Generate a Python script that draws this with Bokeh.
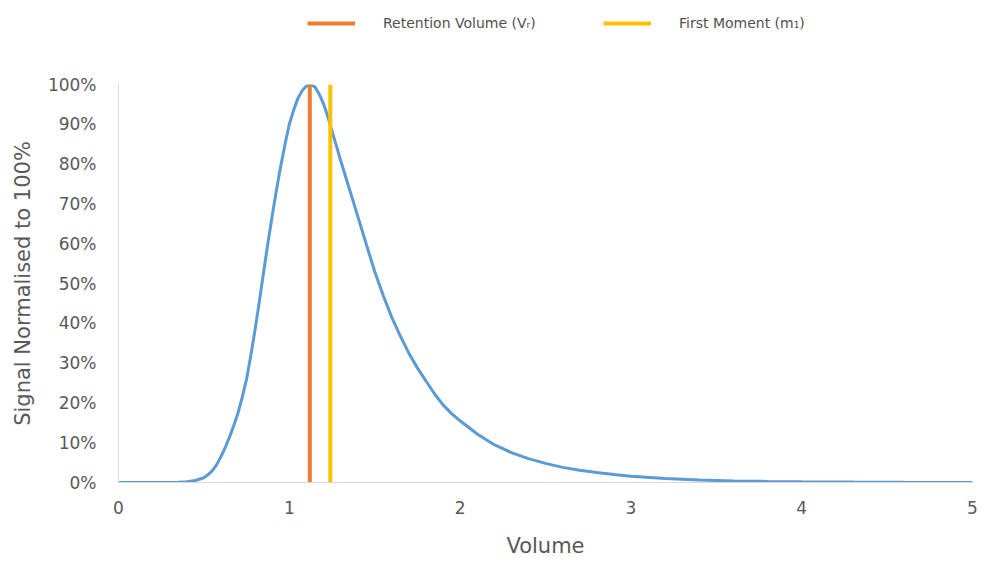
from bokeh.plotting import figure
from bokeh.models import Range1d, FixedTicker, NumeralTickFormatter, Legend, LegendItem
from bokeh.layouts import column
from bokeh.embed import file_html
from bokeh.resources import INLINE

# ---- data ----
volume = [0.0, 0.3, 0.35, 0.4, 0.45, 0.5, 0.525, 0.55, 0.575, 0.6, 0.625, 0.65, 0.675,
          0.7, 0.725, 0.75, 0.775, 0.8, 0.825, 0.85, 0.875, 0.9, 0.925, 0.95, 0.975,
          1.0, 1.025, 1.05, 1.075, 1.1, 1.125, 1.15, 1.175, 1.2, 1.225, 1.25, 1.275,
          1.3, 1.325, 1.35, 1.375, 1.4, 1.45, 1.5, 1.55, 1.6, 1.65, 1.7, 1.75, 1.8,
          1.85, 1.9, 1.95, 2.0, 2.1, 2.2, 2.3, 2.4, 2.5, 2.6, 2.7, 2.8, 2.9, 3.0,
          3.2, 3.4, 3.6, 3.8, 4.0, 4.3, 4.6, 5.0]
signal_pct = [0.0, 0.0, 0.05, 0.2, 0.5, 1.2, 2.0, 3.0, 4.5, 6.5, 8.8, 11.4, 14.3,
              17.5, 21.5, 26.0, 32.0, 38.5, 45.6, 53.0, 60.2, 67.0, 73.5, 79.5, 85.0,
              90.0, 93.5, 96.5, 98.4, 99.6, 100.0, 99.4, 97.6, 95.2, 92.0, 88.3, 84.7,
              81.0, 77.5, 74.0, 70.5, 67.0, 60.0, 53.0, 47.0, 41.5, 36.8, 32.5, 28.8, 25.5,
              22.3, 19.5, 17.3, 15.5, 12.2, 9.5, 7.5, 6.0, 4.8, 3.8, 3.1, 2.5, 2.0, 1.6,
              1.0, 0.65, 0.4, 0.28, 0.18, 0.1, 0.05, 0.02]
signal = [v / 100.0 for v in signal_pct]

retention_volume = 1.12
first_moment = 1.24
marker_names = ["Retention Volume (V\u1d63)", "First Moment (m\u2081)"]
marker_colors = ["#ED7D31", "#FFC000"]

x_ticks = [0, 1, 2, 3, 4, 5]
y_ticks = [0.0, 0.1, 0.2, 0.3, 0.4, 0.5, 0.6, 0.7, 0.8, 0.9, 1.0]

FONT = "DejaVu Sans"
TXT = "#595959"
LEG_H = 45

# ---- main chart ----
p = figure(width=981, height=561 - LEG_H, output_backend="svg", toolbar_location=None,
           x_range=Range1d(0, 5), y_range=Range1d(0, 1),
           min_border_left=118, min_border_right=9, min_border_top=84 - LEG_H,
           min_border_bottom=79)
p.outline_line_color = None
p.xgrid.visible = False
p.ygrid.visible = False

p.line(volume, signal, line_color="#5B9BD5", line_width=3)
p.line([retention_volume, retention_volume], [0, 1], line_color=marker_colors[0], line_width=4)
p.line([first_moment, first_moment], [0, 1], line_color=marker_colors[1], line_width=4)

p.xaxis.ticker = FixedTicker(ticks=x_ticks)
p.yaxis.ticker = FixedTicker(ticks=y_ticks)
p.yaxis.formatter = NumeralTickFormatter(format="0%")
for ax in (p.xaxis[0], p.yaxis[0]):
    ax.axis_line_color = "#D9D9D9"
    ax.axis_line_width = 1
    ax.major_tick_line_color = None
    ax.minor_tick_line_color = None
    ax.major_tick_out = 0
    ax.major_tick_in = 0
    ax.major_label_text_color = TXT
    ax.major_label_text_font = FONT
    ax.major_label_text_font_size = "17px"
    ax.axis_label_text_color = TXT
    ax.axis_label_text_font = FONT
    ax.axis_label_text_font_size = "21px"
    ax.axis_label_text_font_style = "normal"

p.xaxis.axis_label = "Volume"
p.yaxis.axis_label = "Signal Normalised to 100%"
p.xaxis.major_label_standoff = 18
p.xaxis.axis_label_standoff = 17
p.yaxis.major_label_standoff = 22
p.yaxis.axis_label_standoff = 10

# ---- legend strip on top (frame aligned with the chart frame) ----
lg = figure(width=981, height=LEG_H, output_backend="svg", toolbar_location=None,
            x_range=Range1d(0, 1), y_range=Range1d(0, 1),
            x_axis_type=None, y_axis_type=None, min_border=0)
lg.outline_line_color = None
lg.xgrid.visible = False
lg.ygrid.visible = False
# renderers kept outside the visible range: only their legend glyphs show
rends = [lg.line([5, 6], [5, 6], line_color=c, line_width=4) for c in marker_colors]
legend = Legend(items=[LegendItem(label=n, renderers=[r]) for n, r in zip(marker_names, rends)],
                orientation="horizontal", location=(307 - 118, 12),
                glyph_width=48, glyph_height=20, label_height=20, label_width=170,
                label_standoff=28, spacing=50, padding=0, margin=0,
                border_line_color=None, background_fill_alpha=0,
                label_text_font=FONT, label_text_font_size="14px", label_text_color="#505050")
lg.add_layout(legend, "center")

layout = column(lg, p, spacing=0)
open("out.html", "w").write(file_html(layout, INLINE))
